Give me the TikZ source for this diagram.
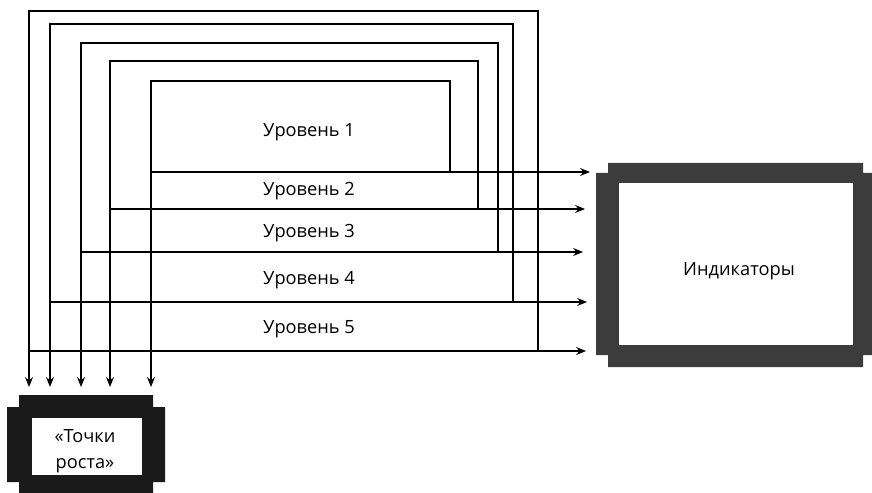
\documentclass[tikz,border=0pt]{standalone}
\usepackage{fontspec}
\setmainfont{Open Sans}
\usetikzlibrary{arrows.meta}
\definecolor{indc}{HTML}{3C3C3C}
\definecolor{trc}{HTML}{1A1A1A}
\begin{document}
\begin{tikzpicture}[x=1bp,y=-1bp,
  ln/.style={draw=black,line width=1.1bp},
  arr/.style={ln,-{Stealth[length=10bp,width=8bp,inset=3.5bp]}},
  lbl/.style={font=\fontsize{18.3}{22}\selectfont,inner sep=0pt}]
\useasboundingbox (0,0) rectangle (872,493);

% Indicators block
\fill[indc] (608,163) -- (863,163) -- (863,173) -- (872,173) -- (872,355) -- (863,355)
  -- (863,367) -- (608,367) -- (608,355) -- (596,355) -- (596,173) -- (608,173) -- cycle;
\fill[white] (619,183) rectangle (853,345);
\node[lbl] (ind) at (739,271) {Индикаторы};

% Growth points block
\fill[trc] (19,395) -- (153,395) -- (153,407) -- (165,407) -- (165,482) -- (153,482)
  -- (153,493) -- (19,493) -- (19,482) -- (7,482) -- (7,407) -- (19,407) -- cycle;
\fill[white] (32,418) rectangle (142,475);
\node[lbl,align=center,font=\fontsize{18.3}{26}\selectfont] (tr) at (85,451) {«Точки\\роста»};

% coordinates
\coordinate (d5) at (29,387);
\coordinate (d4) at (50,387);
\coordinate (d3) at (81,387);
\coordinate (d2) at (110,387);
\coordinate (d1) at (151,387);
\coordinate (r1) at (590,172);
\coordinate (r2) at (585,209);
\coordinate (r3) at (583,252);
\coordinate (r4) at (587,302);
\coordinate (r5) at (586,351);

% Level 5
\draw[arr] (538,351) -- (538,11) -- (29,11) -- (d5);
\draw[arr] (29,351) -- (r5);
% Level 4
\draw[arr] (513,302) -- (513,24) -- (50,24) -- (d4);
\draw[arr] (50,302) -- (r4);
% Level 3
\draw[arr] (498,252) -- (498,43) -- (81,43) -- (d3);
\draw[arr] (81,252) -- (r3);
% Level 2
\draw[arr] (478,209) -- (478,61) -- (110,61) -- (d2);
\draw[arr] (110,209) -- (r2);
% Level 1
\draw[arr] (450,172) -- (450,81) -- (151,81) -- (d1);
\draw[arr] (151,172) -- (r1);

% labels
\node[lbl] (l1) at (309,132) {Уровень 1};
\node[lbl] (l2) at (309,191) {Уровень 2};
\node[lbl] (l3) at (309,233) {Уровень 3};
\node[lbl] (l4) at (309,280) {Уровень 4};
\node[lbl] (l5) at (309,329) {Уровень 5};
\end{tikzpicture}
\end{document}
